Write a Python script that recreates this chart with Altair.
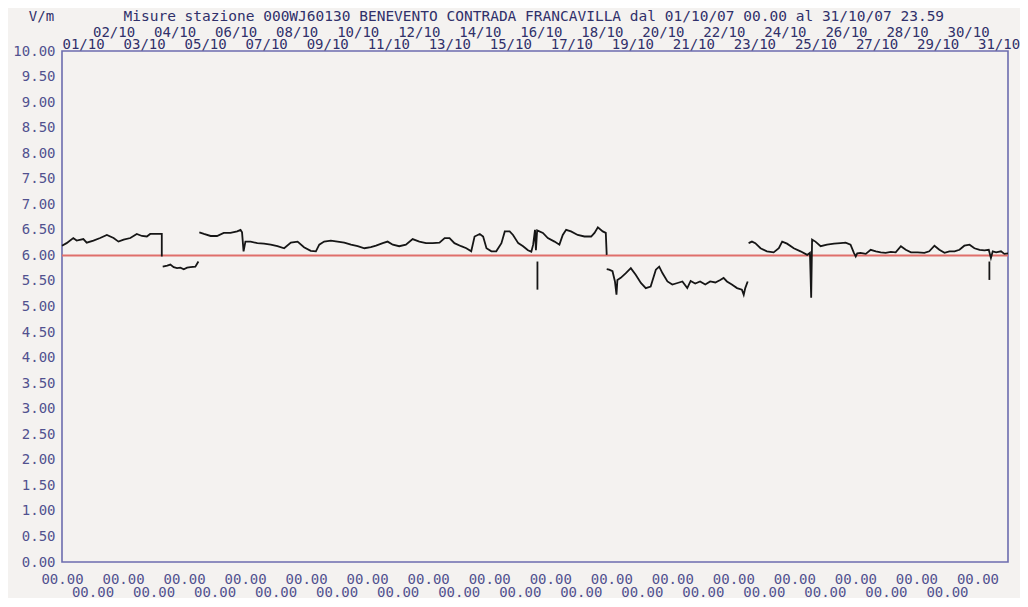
import json
import altair as alt
import pandas as pd

TITLE = "Misure stazione 000WJ60130 BENEVENTO CONTRADA FRANCAVILLA dal 01/10/07 00.00 al 31/10/07 23.59"
UNIT = "V/m"

# tick positions (days since 01/10 00.00) and labels
day_ticks = [0, 1, 2, 3, 4, 5, 6, 7, 8, 9, 10, 11, 12, 13, 14, 15, 16, 17, 18, 19, 20,
             21, 22, 23, 24, 25, 26, 27, 28, 29, 30]
top_labels = ["01/10", "02/10", "03/10", "04/10", "05/10", "06/10", "07/10", "08/10",
              "09/10", "10/10", "11/10", "12/10", "13/10", "14/10", "15/10", "16/10",
              "17/10", "18/10", "19/10", "20/10", "21/10", "22/10", "23/10", "24/10",
              "25/10", "26/10", "27/10", "28/10", "29/10", "30/10", "31/10"]
bottom_labels = ["00.00"] * 31
y_ticks = [0.0, 0.5, 1.0, 1.5, 2.0, 2.5, 3.0, 3.5, 4.0, 4.5, 5.0, 5.5, 6.0, 6.5, 7.0,
           7.5, 8.0, 8.5, 9.0, 9.5, 10.0]

# reference threshold
limit_value = [6.0]
limit_from = [0.0]
limit_to = [31.0]

# measured field, in separate continuous pieces (days, V/m)
seg_a_day = [0.00, 0.15, 0.37, 0.48, 0.70, 0.81, 1.03, 1.25, 1.47, 1.69, 1.85, 2.02,
             2.24, 2.45, 2.62, 2.78, 2.89, 3.22, 3.27, 3.27]
seg_a_val = [6.19, 6.24, 6.34, 6.29, 6.32, 6.25, 6.29, 6.34, 6.40, 6.34, 6.27, 6.31,
             6.34, 6.42, 6.38, 6.37, 6.42, 6.42, 6.42, 5.98]

seg_b_day = [3.30, 3.45, 3.55, 3.66, 3.77, 3.88, 3.99, 4.10, 4.21, 4.37, 4.47]
seg_b_val = [5.78, 5.80, 5.82, 5.77, 5.75, 5.76, 5.73, 5.76, 5.77, 5.78, 5.88]

seg_c_day = [4.50, 4.65, 4.87, 5.08, 5.30, 5.52, 5.74, 5.85, 5.90, 5.95, 6.01, 6.18,
             6.40, 6.62, 6.84, 7.06, 7.28, 7.50, 7.72, 7.93, 8.15, 8.32, 8.43, 8.59,
             8.81, 9.03, 9.25, 9.47, 9.69, 9.91, 10.12, 10.29, 10.51, 10.67, 10.84,
             11.05, 11.27, 11.49, 11.71, 11.93, 12.15, 12.37, 12.54, 12.70, 12.86,
             13.08, 13.25, 13.41, 13.52, 13.69, 13.80, 13.91, 14.07, 14.23, 14.40,
             14.51, 14.67, 14.78, 14.95, 15.11, 15.27, 15.38, 15.44, 15.50, 15.53,
             15.57, 15.76, 15.92, 16.14, 16.30, 16.41, 16.52, 16.68, 16.90, 17.12,
             17.34, 17.45, 17.56, 17.72, 17.82, 17.85]
seg_c_val = [6.45, 6.42, 6.38, 6.38, 6.44, 6.44, 6.47, 6.50, 6.45, 6.08, 6.27, 6.27,
             6.24, 6.23, 6.21, 6.18, 6.14, 6.25, 6.27, 6.16, 6.09, 6.08, 6.21, 6.27,
             6.29, 6.27, 6.25, 6.21, 6.18, 6.14, 6.16, 6.19, 6.24, 6.27, 6.21,
             6.18, 6.21, 6.32, 6.27, 6.24, 6.24, 6.25, 6.34, 6.34, 6.24,
             6.18, 6.14, 6.08, 6.37, 6.42, 6.37, 6.14, 6.08, 6.08, 6.24,
             6.47, 6.47, 6.40, 6.24, 6.18, 6.10, 6.07, 6.21, 6.50, 6.10,
             6.49, 6.44, 6.34, 6.27, 6.21, 6.40, 6.50, 6.47, 6.40, 6.37,
             6.37, 6.44, 6.55, 6.47, 6.44, 6.01]

spike_1_day = [15.58, 15.58]
spike_1_val = [5.88, 5.33]

seg_d_day = [17.85, 17.93, 18.04, 18.12, 18.17, 18.20, 18.31, 18.47, 18.64, 18.80,
             18.97, 19.13, 19.29, 19.46, 19.57, 19.68, 19.84, 20.00, 20.17, 20.33,
             20.49, 20.60, 20.75, 20.91, 21.08, 21.24, 21.41, 21.57, 21.68, 21.79,
             21.95, 22.12, 22.28, 22.34, 22.39, 22.47]
seg_d_val = [5.73, 5.72, 5.69, 5.49, 5.23, 5.52, 5.56, 5.65, 5.75, 5.62,
             5.46, 5.36, 5.39, 5.72, 5.78, 5.65, 5.49, 5.43, 5.46, 5.49,
             5.36, 5.50, 5.45, 5.49, 5.43, 5.49, 5.47, 5.52, 5.56, 5.49,
             5.43, 5.36, 5.33, 5.23, 5.36, 5.49]

seg_e_day = [22.50, 22.61, 22.72, 22.89, 23.10, 23.32, 23.49, 23.60, 23.76, 23.98,
             24.20, 24.42, 24.51, 24.55, 24.58, 24.69, 24.86, 25.07, 25.30, 25.51,
             25.68, 25.84, 25.95, 26.01, 26.06, 26.17, 26.34, 26.50, 26.67, 26.83,
             26.99, 27.16, 27.32, 27.49, 27.65, 27.82, 28.04, 28.26, 28.42, 28.59,
             28.75, 28.92, 29.08, 29.25, 29.41, 29.57, 29.74, 29.90, 30.07, 30.23,
             30.37, 30.44, 30.50, 30.61, 30.77, 30.88, 31.00]
seg_e_val = [6.24, 6.27, 6.24, 6.14, 6.08, 6.06, 6.14, 6.27, 6.23, 6.14,
             6.08, 6.01, 6.05, 5.17, 6.31, 6.27, 6.18, 6.21, 6.23, 6.24,
             6.25, 6.21, 6.05, 5.98, 6.04, 6.05, 6.03, 6.11, 6.08, 6.06,
             6.05, 6.07, 6.06, 6.18, 6.11, 6.06, 6.06, 6.05, 6.08, 6.19,
             6.11, 6.05, 6.08, 6.08, 6.11, 6.19, 6.21, 6.14, 6.11, 6.10,
             6.11, 5.95, 6.08, 6.06, 6.08, 6.03, 6.04]

spike_2_day = [30.39, 30.39]
spike_2_val = [5.88, 5.52]

pieces = [("a", seg_a_day, seg_a_val), ("b", seg_b_day, seg_b_val),
          ("c", seg_c_day, seg_c_val), ("s1", spike_1_day, spike_1_val),
          ("d", seg_d_day, seg_d_val), ("e", seg_e_day, seg_e_val),
          ("s2", spike_2_day, spike_2_val)]
rows = []
for name, days, vals in pieces:
    for i, (d, v) in enumerate(zip(days, vals)):
        rows.append({"seg": name, "order": i, "day": d, "value": v})
df = pd.DataFrame(rows)

limit_df = pd.DataFrame({"value": limit_value, "x0": limit_from, "x1": limit_to})

FONT = "DejaVu Sans Mono"
LABEL_COLOR = "#51518f"
TITLE_COLOR = "#30306a"
FRAME_COLOR = "#6c6cae"
BG = "#f4f2f0"

x_scale = alt.Scale(domain=[0, 31], nice=False, zero=False)
y_scale = alt.Scale(domain=[0, 10], nice=False, zero=False)

y_axis = alt.Axis(values=y_ticks, format=".2f", labelFont=FONT, labelFontSize=14,
                  labelColor=LABEL_COLOR, labelPadding=7, ticks=False, domain=False,
                  grid=False, labelOverlap=False, labelFlush=False,
                  title=UNIT, titleAngle=0, titleX=-21, titleY=-35, titleAlign="center",
                  titleBaseline="middle", titleFont=FONT, titleFontSize=14,
                  titleFontWeight="normal", titleColor=TITLE_COLOR)

top_axis = alt.Axis(orient="top", values=day_ticks,
                    labelExpr=json.dumps(top_labels) + "[datum.value]",
                    labelAlign="left", labelFlush=False, labelOverlap=False,
                    labelFont=FONT, labelFontSize=14, labelColor=TITLE_COLOR,
                    labelPadding={"condition": {"test": "datum.value % 2 == 0", "value": 0},
                                  "value": 12},
                    ticks=False, domain=False, grid=False,
                    title=TITLE, titleX=61, titleY=-35, titleAlign="left",
                    titleBaseline="middle", titleFont=FONT, titleFontSize=14.5,
                    titleFontWeight="normal", titleColor=TITLE_COLOR)

bottom_axis = alt.Axis(orient="bottom", values=day_ticks,
                       labelExpr=json.dumps(bottom_labels) + "[datum.value]",
                       labelAlign="center", labelFlush=False, labelOverlap=False,
                       labelFont=FONT, labelFontSize=14, labelColor=LABEL_COLOR,
                       labelPadding={"condition": {"test": "datum.value % 2 == 0", "value": 10},
                                     "value": 23},
                       ticks=False, domain=False, grid=False, title=None)

limit_rule = alt.Chart(limit_df).mark_rule(color="#df6f6b", strokeWidth=2).encode(
    x=alt.X("x0:Q", scale=x_scale, axis=bottom_axis),
    x2="x1:Q",
    y=alt.Y("value:Q", scale=y_scale, axis=y_axis),
)

series = alt.Chart(df).mark_line(color="#161616", strokeWidth=1.8).encode(
    x=alt.X("day:Q", scale=x_scale, axis=top_axis),
    y=alt.Y("value:Q", scale=y_scale, axis=y_axis),
    detail="seg:N",
    order="order:Q",
)

chart = (
    alt.layer(limit_rule, series)
    .resolve_axis(x="independent")
    .properties(width=946, height=511,
                autosize=alt.AutoSizeParams(type="none"),
                padding={"left": 54, "top": 43, "right": 12, "bottom": 36},
                background=BG)
    .configure_view(stroke=FRAME_COLOR, strokeWidth=1.6, fill=BG)
)

chart.save("out.html", embed_options={"renderer": "svg", "actions": False})
